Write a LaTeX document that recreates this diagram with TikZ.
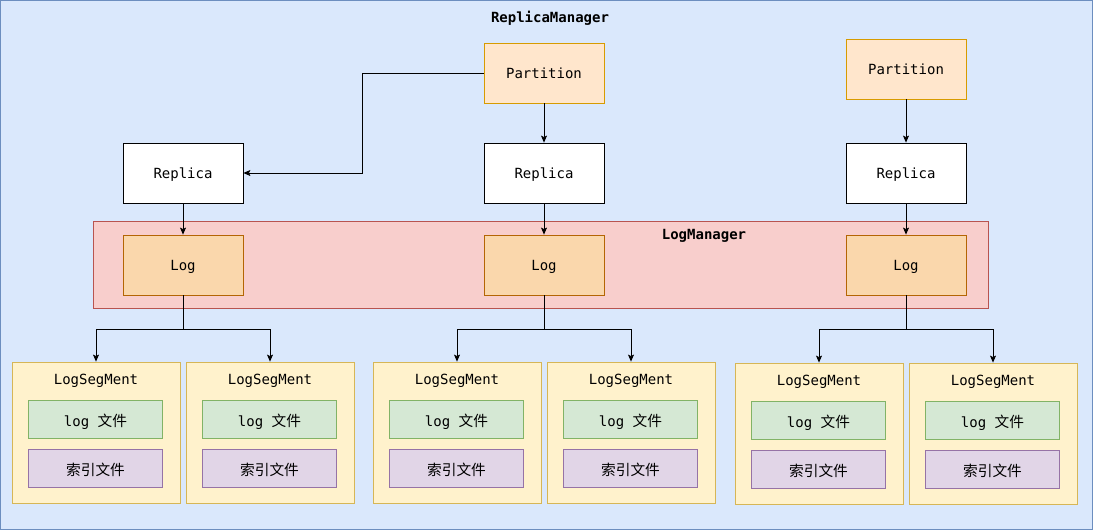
\documentclass[tikz,border=0pt]{standalone}
\usepackage{fontspec}
\setmonofont{DejaVu Sans Mono}
\newfontfamily\cjk{Noto Sans CJK SC}
\usetikzlibrary{arrows.meta}
\definecolor{bgF}{HTML}{DAE8FC}\definecolor{bgS}{HTML}{6C8EBF}
\definecolor{ptF}{HTML}{FFE6CC}\definecolor{ptS}{HTML}{D79B00}
\definecolor{lmF}{HTML}{F8CECC}\definecolor{lmS}{HTML}{B85450}
\definecolor{lgF}{HTML}{FAD7AC}\definecolor{lgS}{HTML}{B46504}
\definecolor{sgF}{HTML}{FFF2CC}\definecolor{sgS}{HTML}{D6B656}
\definecolor{gnF}{HTML}{D5E8D4}\definecolor{gnS}{HTML}{82B366}
\definecolor{puF}{HTML}{E1D5E7}\definecolor{puS}{HTML}{9673A6}
\begin{document}
\begin{tikzpicture}[x=1pt,y=-1pt,
  font=\ttfamily\fontsize{14}{16}\selectfont,
  mono/.style={text depth=0pt,text height=10.2pt},
  box/.style={text depth=0pt,text height=11.8pt,draw,line width=0.8pt,minimum width=120pt,minimum height=60pt,inner sep=0pt},
  partbox/.style={box,fill=ptF,draw=ptS},
  repbox/.style={box,fill=white,draw=black},
  logbox/.style={box,fill=lgF,draw=lgS},
  segbox/.style={draw=sgS,fill=sgF,line width=0.8pt,minimum width=168pt,minimum height=141pt,inner sep=0pt},
  cjkbox/.style={text depth=0pt,text height=14.2pt,line width=0.8pt,minimum width=134pt,minimum height=38pt,inner sep=0pt},
  filebox/.style={cjkbox,draw=gnS,fill=gnF},
  idxbox/.style={cjkbox,draw=puS,fill=puF},
  arr/.style={draw=black,line width=0.8pt,-{Stealth[length=7pt,width=6pt,inset=1.5pt]}},
  cjkt/.style={font=\cjk\fontsize{14.7}{16}\selectfont},
  ttl/.style={mono,font=\ttfamily\bfseries\fontsize{14}{16}\selectfont}
]
\useasboundingbox (0,0) rectangle (1093,530);
\draw[fill=bgF,draw=bgS,line width=0.8pt] (0.5,0.5) rectangle (1092.5,529.5);
\node[ttl] (title) at (550,17.2) {ReplicaManager};

\node[draw=lmS,fill=lmF,line width=0.8pt,minimum width=895pt,minimum height=87pt,inner sep=0pt] (lm) at (540.5,264.5) {};
\node[ttl] (lmt) at (704,234.5) {LogManager};

\node[partbox] (p1) at (544,73) {Partition};
\node[partbox] (p2) at (906,69) {Partition};
\node[repbox] (r1) at (183,173) {Replica};
\node[repbox] (r2) at (544,173) {Replica};
\node[repbox] (r3) at (906,173) {Replica};
\node[logbox] (l1) at (183,265) {Log};
\node[logbox] (l2) at (544,265) {Log};
\node[logbox] (l3) at (906,265) {Log};

\foreach \n/\x/\y in {s1/96/432.5,s2/270/432.5,s3/457/432.5,s4/631/432.5,s5/819/433.5,s6/993/433.5}{
  \node[segbox] (\n) at (\x,\y) {};
  \node[mono] (\n t) at (\x,\y-53.3) {LogSegMent};
  \node[filebox] (\n f) at (\x-0.5,\y-13.5) {log {\cjk\fontsize{14.7}{16}\selectfont 文件}};
  \node[idxbox,cjkt] (\n i) at (\x-0.5,\y+35.5) {索引文件};
}

\draw[arr] (p1.west) -- ++(-121,0) |- (r1.east);
\draw[arr] (p1.south) -- (r2.north);
\draw[arr] (p2.south) -- (r3.north);
\draw[arr] (r1.south) -- (l1.north);
\draw[arr] (r2.south) -- (l2.north);
\draw[arr] (r3.south) -- (l3.north);
\draw[arr] (l1.south) -- ++(0,34) -| (s1.north);
\draw[arr] (l1.south) -- ++(0,34) -| (s2.north);
\draw[arr] (l2.south) -- ++(0,34) -| (s3.north);
\draw[arr] (l2.south) -- ++(0,34) -| (s4.north);
\draw[arr] (l3.south) -- ++(0,34) -| (s5.north);
\draw[arr] (l3.south) -- ++(0,34) -| (s6.north);
\end{tikzpicture}
\end{document}
